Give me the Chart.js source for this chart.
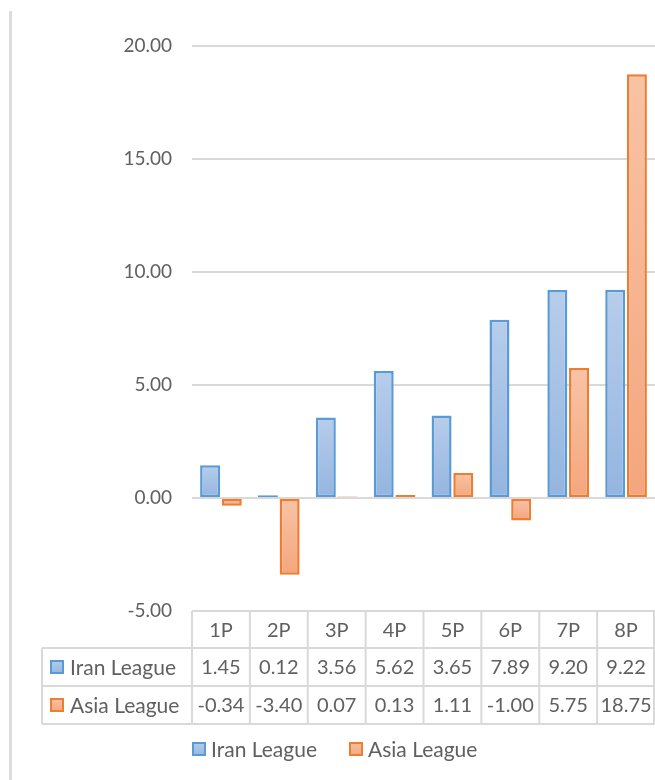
<!DOCTYPE html>
<html>
<head>
    <title>Iran League vs Asia League</title>
    <script src="https://cdn.jsdelivr.net/npm/chart.js"></script>
    <style>
        html, body { margin: 0; padding: 0; background: #fff; }
        #wrap { width: 655px; height: 780px; position: relative; }
    </style>
</head>
<body>
    <div id="wrap">
        <canvas id="barChart"></canvas>
    </div>

    <script>
        var categories = ["1P", "2P", "3P", "4P", "5P", "6P", "7P", "8P"];
        var iranLeague = [1.45, 0.12, 3.56, 5.62, 3.65, 7.89, 9.20, 9.22];
        var asiaLeague = [-0.34, -3.40, 0.07, 0.13, 1.11, -1.00, 5.75, 18.75];
        var seriesNames = ["Iran League", "Asia League"];
        var yTicks = [-5, 0, 5, 10, 15, 20];

        var FONT = "Lato, 'Open Sans', sans-serif";
        var TEXT = "#606060";
        var GRID = "#d9d9d9";

        // per-bar vertical gradient like the excel fill
        function barFill(top, bottom) {
            return function (c) {
                var chart = c.chart;
                if (!chart.chartArea || c.parsed == null) return top;
                var y = chart.scales.y;
                var p0 = y.getPixelForValue(0);
                var p1 = y.getPixelForValue(c.parsed.y);
                var a = Math.min(p0, p1), b = Math.max(p0, p1);
                if (b - a < 1) b = a + 1;
                var g = chart.ctx.createLinearGradient(0, a, 0, b);
                g.addColorStop(0, top);
                g.addColorStop(1, bottom);
                return g;
            };
        }

        var seriesColors = [
            { border: "#5b9bd5", top: "#b7cdeb", bottom: "#94b5e0" },
            { border: "#ed7d31", top: "#f8c3a6", bottom: "#f4a67d" }
        ];

        // data table + legend + frame line, drawn under the plot
        var tablePlugin = {
            id: "dataTable",
            beforeDraw: function (chart) {
                var ctx = chart.ctx;
                ctx.save();
                ctx.fillStyle = "#fff";
                ctx.fillRect(0, 0, chart.width, chart.height);
                ctx.strokeStyle = "#dcdcdc";
                ctx.lineWidth = 3;
                ctx.beginPath();
                ctx.moveTo(10.5, 11);
                ctx.lineTo(10.5, 780);
                ctx.stroke();
                ctx.restore();
            },
            afterDraw: function (chart) {
                var ctx = chart.ctx;
                var x = chart.scales.x;
                var area = chart.chartArea;
                var half = (area.right - area.left) / categories.length / 2;
                var rows = [611, 648, 686, 724];
                var tableLeft = 42;
                var series = [iranLeague, asiaLeague];

                ctx.save();
                ctx.strokeStyle = GRID;
                ctx.lineWidth = 2;
                ctx.beginPath();
                ctx.moveTo(area.left, rows[0]); ctx.lineTo(area.right, rows[0]);
                for (var r = 1; r < rows.length; r++) {
                    ctx.moveTo(tableLeft, rows[r]); ctx.lineTo(area.right, rows[r]);
                }
                ctx.moveTo(tableLeft, rows[1]); ctx.lineTo(tableLeft, rows[3]);
                for (var i = 0; i < categories.length; i++) {
                    var xl = x.getPixelForValue(i) - half;
                    ctx.moveTo(xl, rows[0]); ctx.lineTo(xl, rows[3]);
                }
                ctx.moveTo(area.right - 1, rows[0]); ctx.lineTo(area.right - 1, rows[3]);
                ctx.stroke();

                ctx.fillStyle = TEXT;
                ctx.font = "20px " + FONT;
                ctx.textAlign = "center";
                ctx.textBaseline = "middle";
                for (var i = 0; i < categories.length; i++) {
                    var cx = x.getPixelForValue(i);
                    ctx.fillText(categories[i], cx, (rows[0] + rows[1]) / 2 + 1);
                    for (var s = 0; s < series.length; s++) {
                        ctx.fillText(series[s][i].toFixed(2), cx, (rows[s + 1] + rows[s + 2]) / 2 + 1);
                    }
                }

                // row keys
                ctx.textAlign = "left";
                ctx.font = "21px " + FONT;
                for (var s = 0; s < series.length; s++) {
                    var cy = (rows[s + 1] + rows[s + 2]) / 2;
                    drawKey(ctx, 50, cy, s);
                    ctx.fillStyle = TEXT;
                    ctx.fillText(seriesNames[s], 70, cy + 1);
                }

                // legend
                var lx = [192, 349];
                for (var s = 0; s < series.length; s++) {
                    drawKey(ctx, lx[s], 749, s);
                    ctx.fillStyle = TEXT;
                    ctx.fillText(seriesNames[s], lx[s] + 19, 750);
                }
                ctx.restore();
            }
        };

        function drawKey(ctx, left, cy, s) {
            var c = seriesColors[s];
            var g = ctx.createLinearGradient(0, cy - 7, 0, cy + 7);
            g.addColorStop(0, c.top);
            g.addColorStop(1, c.bottom);
            ctx.fillStyle = g;
            ctx.fillRect(left, cy - 7, 14, 14);
            ctx.strokeStyle = c.border;
            ctx.lineWidth = 2;
            ctx.strokeRect(left + 1, cy - 6, 12, 12);
        }

        new Chart("barChart", {
            type: "bar",
            data: {
                labels: categories,
                datasets: [{
                    label: seriesNames[0],
                    data: iranLeague,
                    backgroundColor: barFill(seriesColors[0].top, seriesColors[0].bottom),
                    borderColor: seriesColors[0].border,
                    borderWidth: 2.5,
                    borderSkipped: false
                }, {
                    label: seriesNames[1],
                    data: asiaLeague,
                    backgroundColor: barFill(seriesColors[1].top, seriesColors[1].bottom),
                    borderColor: seriesColors[1].border,
                    borderWidth: 2.5,
                    borderSkipped: false
                }]
            },
            options: {
                responsive: true,
                maintainAspectRatio: false,
                animation: false,
                layout: { padding: { top: 46, bottom: 169, left: 0, right: 0 } },
                datasets: { bar: { categoryPercentage: 0.75, barPercentage: 0.92 } },
                plugins: {
                    legend: { display: false },
                    tooltip: { enabled: false }
                },
                scales: {
                    x: { display: false },
                    y: {
                        min: yTicks[0],
                        max: yTicks[yTicks.length - 1],
                        afterFit: function (scale) { scale.width = 192; },
                        afterBuildTicks: function (scale) {
                            scale.ticks = yTicks.map(function (v) { return { value: v }; });
                        },
                        border: { display: false },
                        grid: { color: GRID, lineWidth: 2, drawTicks: false },
                        ticks: {
                            padding: 20,
                            color: TEXT,
                            font: { family: FONT, size: 19 },
                            callback: function (v) { return Number(v).toFixed(2); }
                        }
                    }
                }
            },
            plugins: [tablePlugin]
        });
    </script>
</body>
</html>
